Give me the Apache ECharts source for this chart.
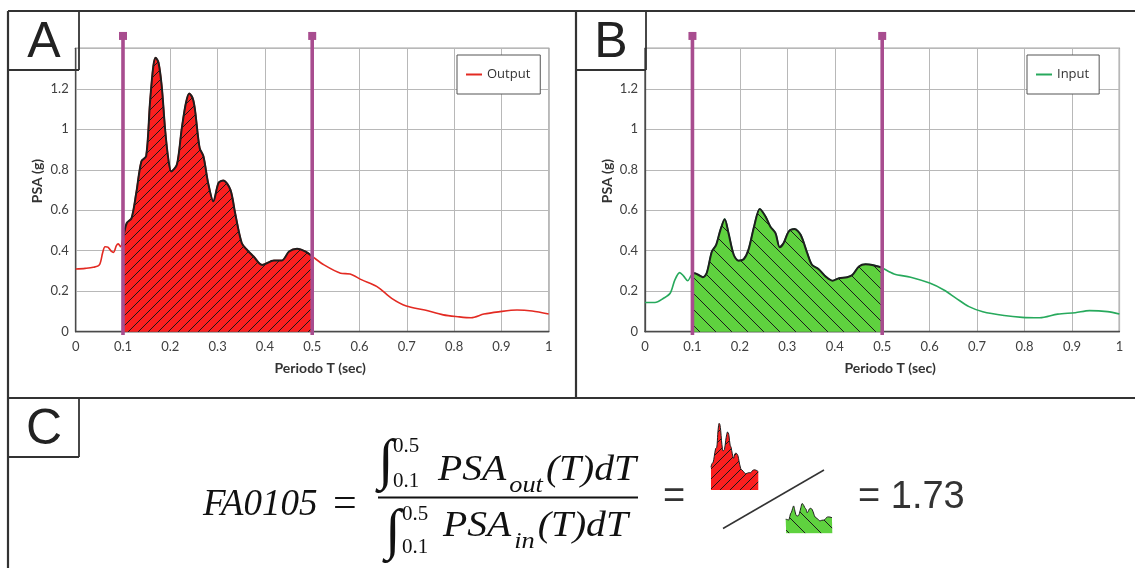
<!DOCTYPE html>
<html>
<head>
<meta charset="utf-8">
<script src="https://cdn.jsdelivr.net/npm/echarts@6.0.0/dist/echarts.min.js"></script>
<style>
html,body{margin:0;padding:0;background:#fff;}
#chart{width:1135px;height:568px;}
</style>
</head>
<body>
<div id="chart"></div>
<script>
// ---- Data ----
const periodsOut = [0, 0.02, 0.037, 0.05, 0.057, 0.062, 0.068, 0.075, 0.08, 0.086, 0.09, 0.095, 0.1, 0.108, 0.118, 0.128, 0.139, 0.149, 0.157, 0.164, 0.169, 0.175, 0.182, 0.189, 0.196, 0.202, 0.214, 0.224, 0.233, 0.24, 0.247, 0.252, 0.262, 0.27, 0.28, 0.291, 0.302, 0.312, 0.327, 0.337, 0.351, 0.362, 0.376, 0.394, 0.419, 0.436, 0.451, 0.468, 0.486, 0.5, 0.525, 0.56, 0.58, 0.605, 0.637, 0.668, 0.699, 0.738, 0.777, 0.808, 0.836, 0.863, 0.894, 0.933, 0.965, 1.0];
const psaOut     = [0.31, 0.313, 0.318, 0.33, 0.39, 0.42, 0.418, 0.398, 0.392, 0.425, 0.434, 0.42, 0.46, 0.537, 0.56, 0.685, 0.842, 0.867, 1.13, 1.31, 1.353, 1.33, 1.21, 1.0, 0.85, 0.792, 0.826, 1.0, 1.13, 1.177, 1.155, 1.1, 0.908, 0.867, 0.735, 0.644, 0.735, 0.747, 0.702, 0.586, 0.438, 0.405, 0.372, 0.33, 0.352, 0.352, 0.396, 0.41, 0.396, 0.372, 0.33, 0.289, 0.285, 0.256, 0.223, 0.165, 0.127, 0.107, 0.083, 0.074, 0.069, 0.087, 0.098, 0.107, 0.102, 0.087];
const periodsIn  = [0, 0.021, 0.039, 0.053, 0.063, 0.073, 0.081, 0.09, 0.097, 0.1, 0.104, 0.113, 0.122, 0.13, 0.141, 0.15, 0.159, 0.168, 0.176, 0.187, 0.197, 0.208, 0.218, 0.23, 0.242, 0.254, 0.264, 0.275, 0.284, 0.292, 0.303, 0.315, 0.328, 0.342, 0.352, 0.366, 0.381, 0.395, 0.409, 0.426, 0.437, 0.451, 0.465, 0.479, 0.497, 0.5, 0.525, 0.56, 0.6, 0.63, 0.656, 0.683, 0.712, 0.757, 0.795, 0.832, 0.87, 0.907, 0.937, 0.975, 1.0];
const psaIn      = [0.144, 0.144, 0.165, 0.19, 0.256, 0.292, 0.276, 0.252, 0.276, 0.285, 0.289, 0.28, 0.269, 0.289, 0.396, 0.429, 0.503, 0.556, 0.487, 0.38, 0.351, 0.358, 0.404, 0.52, 0.606, 0.569, 0.52, 0.487, 0.417, 0.437, 0.495, 0.507, 0.479, 0.388, 0.33, 0.309, 0.272, 0.252, 0.264, 0.269, 0.28, 0.322, 0.333, 0.33, 0.318, 0.315, 0.285, 0.269, 0.24, 0.206, 0.165, 0.124, 0.099, 0.08, 0.071, 0.069, 0.087, 0.094, 0.104, 0.099, 0.087];
const limits = [0.1, 0.5];          // integration bounds (sec)
const limitMarkTop = 1.461;         // height of the purple limit markers (g)
const ratioText = '= 1.73';

// ---- helpers ----
const zip = (xs, ys) => xs.map((x, i) => [x, ys[i]]);
const inRange = pts => pts.filter(p => p[0] >= limits[0] - 1e-9 && p[0] <= limits[1] + 1e-9);
const outPts = zip(periodsOut, psaOut);
const inPts = zip(periodsIn, psaIn);

function hatch(bg, size, dir) {
  const c = document.createElement('canvas');
  c.width = size; c.height = size;
  const g = c.getContext('2d');
  g.fillStyle = bg; g.fillRect(0, 0, size, size);
  g.strokeStyle = '#1a1a1a'; g.lineWidth = 1;
  g.beginPath();
  if (dir === '/') {
    g.moveTo(0, size); g.lineTo(size, 0);
    g.moveTo(-size / 2, size / 2); g.lineTo(size / 2, -size / 2);
    g.moveTo(size / 2, size * 1.5); g.lineTo(size * 1.5, size / 2);
  } else {
    g.moveTo(0, 0); g.lineTo(size, size);
    g.moveTo(-size / 2, size / 2); g.lineTo(size / 2, size * 1.5);
    g.moveTo(size / 2, -size / 2); g.lineTo(size * 1.5, size / 2);
  }
  g.stroke();
  return c;
}
const redFill = { image: hatch('#fb1f1f', 10, '/'), repeat: 'repeat' };
const greenFill = { image: hatch('#5fd23f', 16, '\\'), repeat: 'repeat' };

const PURPLE = '#a84d8f';
const RED = '#e32a22';
const GREEN = '#27a95c';
const tickFont = { color: '#404040', fontFamily: 'Lato', fontSize: 13 };

function mainX(idx) {
  return {
    gridIndex: idx, type: 'value', min: 0, max: 1, interval: 0.1,
    axisLine: { show: true, lineStyle: { color: '#4a4a4a', width: 1.3 } },
    axisTick: { show: false },
    splitLine: { show: true, lineStyle: { color: '#b8b8b8', width: 1 } },
    axisLabel: Object.assign({ margin: 9 }, tickFont),
    name: 'Periodo T (sec)', nameLocation: 'middle', nameGap: 30,
    nameTextStyle: { color: '#333', fontFamily: 'Lato', fontWeight: 'bold', fontSize: 14, padding: [0, 0, 0, 16] }
  };
}
function mainY(idx) {
  return {
    gridIndex: idx, type: 'value', min: 0, max: 1.4, interval: 0.2,
    axisLine: { show: true, lineStyle: { color: '#4a4a4a', width: 1.3 } },
    axisTick: { show: false },
    splitLine: { show: true, lineStyle: { color: '#b8b8b8', width: 1 } },
    axisLabel: Object.assign({ margin: 7, formatter: v => (v > 1.3 ? '' : String(v)) }, tickFont),
    name: 'PSA (g)', nameLocation: 'middle', nameGap: 31,
    nameTextStyle: { color: '#333', fontFamily: 'Lato', fontWeight: 'bold', fontSize: 14, padding: [0, 0, 0, 18] }
  };
}
function thumbAxes(idx) {
  return [
    { gridIndex: idx, type: 'value', min: limits[0], max: limits[1], show: false },
    { gridIndex: idx, type: 'value', min: 0, max: 1.36, show: false }
  ];
}
function limitSeries(axisIdx, lim) {
  return {
    type: 'line', name: '_lim', xAxisIndex: axisIdx, yAxisIndex: axisIdx, clip: false, z: 6,
    data: [{ value: [lim, -0.016], symbol: 'none' }, { value: [lim, limitMarkTop], symbol: 'rect', symbolSize: 8 }],
    showSymbol: true, lineStyle: { color: PURPLE, width: 3.6 }, itemStyle: { color: PURPLE },
    silent: true, animation: false
  };
}
function curveSeries(axisIdx, name, pts, color) {
  return {
    type: 'line', name, xAxisIndex: axisIdx, yAxisIndex: axisIdx, data: pts, smooth: 0.3,
    symbol: 'none', lineStyle: { color, width: 1.6 }, itemStyle: { color }, z: 2, animation: false
  };
}
function areaSeries(axisIdx, pts, fill, lw) {
  return {
    type: 'line', name: '_area', xAxisIndex: axisIdx, yAxisIndex: axisIdx, data: inRange(pts), smooth: 0.3,
    symbol: 'none', lineStyle: { color: '#1e1e1e', width: lw }, areaStyle: { color: fill, opacity: 1 },
    z: 3, animation: false, silent: true
  };
}

const legendStyle = (left, name) => ({
  data: [{ name, icon: 'rect' }], left, top: 55, orient: 'horizontal',
  padding: [13, 10, 13, 9], itemWidth: 16, itemHeight: 2, itemGap: 5,
  borderColor: '#555', borderWidth: 1, backgroundColor: '#fff',
  textStyle: { fontFamily: 'Open Sans', fontSize: 13, color: '#333' }
});

// ---- text layout helpers for the formula (panel C) ----
const mctx = document.createElement('canvas').getContext('2d');
const measure = (text, font) => { mctx.font = font; return mctx.measureText(text).width; };

const T = (text, x, y, font, opt, sx) => ({
  type: 'text', x, y, z: 10, scaleX: sx || 1, scaleY: 1,
  style: Object.assign({ text, font, fill: '#111', align: 'left', verticalAlign: 'middle' }, opt || {})
});
const L = (x1, y1, x2, y2, w, c) => ({ type: 'line', z: 10, shape: { x1, y1, x2, y2 }, style: { stroke: c || '#333', lineWidth: w } });

const serifI = s => 'italic ' + s + 'px "Liberation Serif"';
const serif = s => s + 'px "Liberation Serif"';
const letter = '50px "Liberation Sans"';

// chain pieces horizontally: [text, font, dy]
function chain(pieces, x0, y0, sx, gap) {
  const els = [];
  let x = x0;
  pieces.forEach(([text, font, dy]) => {
    els.push(T(text, x, y0 + dy, font, null, sx));
    x += measure(text, font) * sx + gap;
  });
  return els;
}
const SX = 1.1;

const graphics = [
  // panel frames
  L(8, 11, 1135, 11, 2.2), L(8, 11, 8, 568, 2.2), L(8, 398, 1135, 398, 2.2), L(576, 11, 576, 398, 2.2),
  // label boxes
  L(79, 11, 79, 70, 1.8), L(8, 70, 79, 70, 1.8),
  L(646, 11, 646, 70, 1.8), L(576, 70, 646, 70, 1.8),
  L(79, 398, 79, 457, 1.8), L(8, 457, 79, 457, 1.8),
  T('A', 44, 43, letter, { align: 'center', fill: '#222' }),
  T('B', 611, 43, letter, { align: 'center', fill: '#222' }),
  T('C', 44, 430, letter, { align: 'center', fill: '#222' }),
  // formula
  T('FA0105', 203, 505, serifI(37)),
  T('=', 333, 505, serif(42)),
  L(378, 497.5, 638, 497.5, 2, '#111'),
  T('\u222B', 378, 463, serifI(56)),
  T('0.5', 393, 446, serif(21)),
  T('0.1', 393, 481, serif(21)),
  ...chain([['PSA', serifI(36), 0], ['out', serifI(24), 15], ['(T)dT', serifI(36), 0]], 438, 471, SX, 3),
  T('\u222B', 385, 533, serifI(56)),
  T('0.5', 402, 514, serif(21)),
  T('0.1', 402, 547, serif(21)),
  ...chain([['PSA', serifI(36), 0], ['in', serifI(24), 15], ['(T)dT', serifI(36), 0]], 443, 527, SX, 3),
  T('=', 663, 498, '38px "Liberation Sans"', { fill: '#333' }),
  L(723, 528.5, 824, 470, 1.5, '#333'),
  T(ratioText, 858, 498, '38px "Liberation Sans"', { fill: '#333' })
];

const option = {
  backgroundColor: '#fff',
  animation: false,
  grid: [
    { left: 75.7, top: 48.3, width: 473, height: 283.4, show: true, borderColor: '#4a4a4a', borderWidth: 1.3, backgroundColor: 'transparent' },
    { left: 645, top: 48.3, width: 474.4, height: 283.4, show: true, borderColor: '#4a4a4a', borderWidth: 1.3, backgroundColor: 'transparent' },
    { left: 711, top: 423, width: 47.3, height: 67 },
    { left: 785.7, top: 466.3, width: 46.6, height: 67 }
  ],
  xAxis: [mainX(0), mainX(1), thumbAxes(2)[0], thumbAxes(3)[0]],
  yAxis: [mainY(0), mainY(1), thumbAxes(2)[1], thumbAxes(3)[1]],
  legend: [legendStyle(457, 'Output'), legendStyle(1027, 'Input')],
  series: [
    curveSeries(0, 'Output', outPts, RED),
    areaSeries(0, outPts, redFill, 2),
    limitSeries(0, limits[0]), limitSeries(0, limits[1]),
    curveSeries(1, 'Input', inPts, GREEN),
    areaSeries(1, inPts, greenFill, 2),
    limitSeries(1, limits[0]), limitSeries(1, limits[1]),
    areaSeries(2, outPts, redFill, 1),
    areaSeries(3, inPts, greenFill, 1)
  ],
  graphic: { elements: graphics }
};

const chart = echarts.init(document.getElementById('chart'), null, { renderer: 'canvas' });
chart.setOption(option);
</script>
</body>
</html>
